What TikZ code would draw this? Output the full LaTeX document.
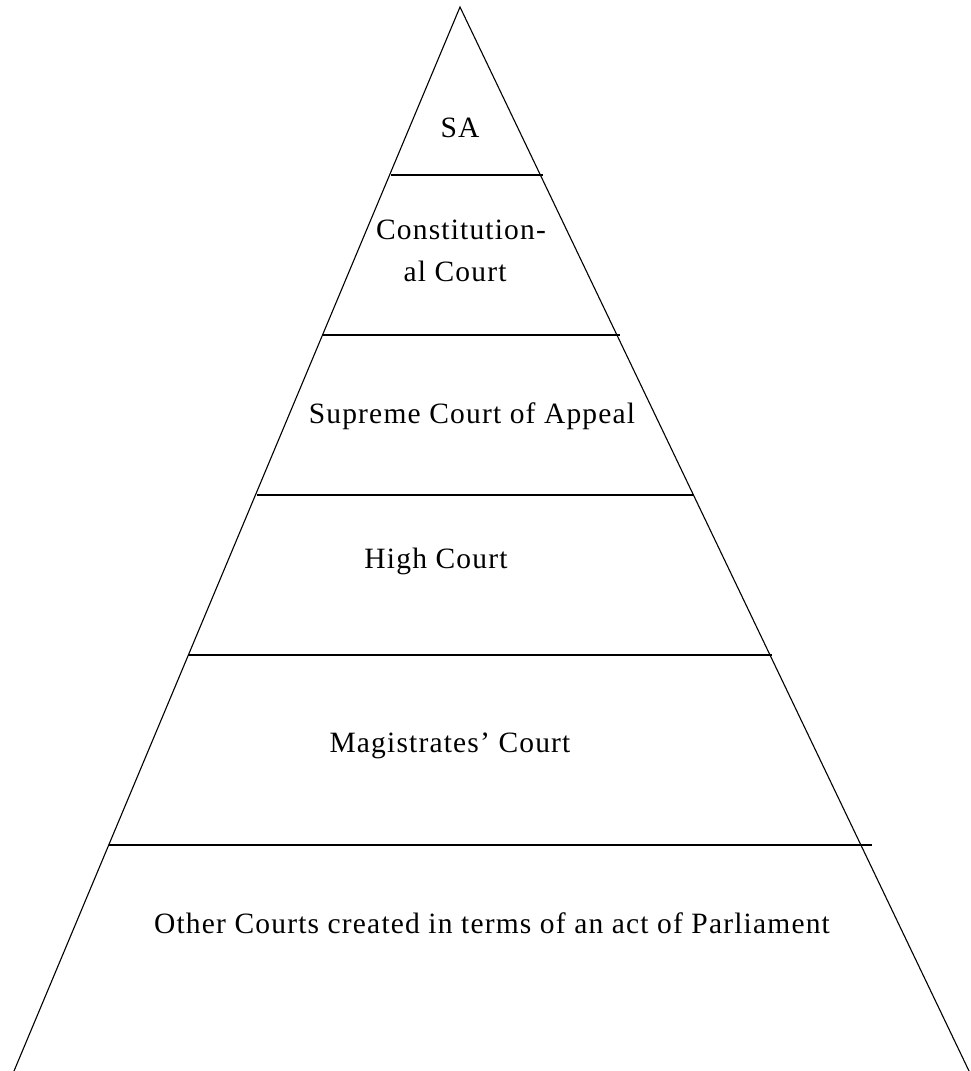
\documentclass[tikz,border=0pt]{standalone}
\usepackage{fontspec}
\setmainfont{Liberation Serif}[LetterSpace=4]
\begin{document}
\begin{tikzpicture}[x=1pt,y=-1pt,
  edge/.style={line width=1.1pt,black},
  tier/.style={line width=1.1pt,black},
  lbl/.style={anchor=base,inner sep=0pt,font=\fontsize{29.5}{42}\selectfont}]
\useasboundingbox (0,0) rectangle (970,1071);
% pyramid outline
\coordinate (apex) at (460,7);
\coordinate (bl) at (14,1071);
\coordinate (br) at (969,1071);
\draw[edge] (bl) -- (apex) -- (br);
% tier separators
\coordinate (s1l) at (391,175); \coordinate (s1r) at (543,175);
\coordinate (s2l) at (323,335); \coordinate (s2r) at (620,335);
\coordinate (s3l) at (257,495); \coordinate (s3r) at (694,495);
\coordinate (s4l) at (188,655); \coordinate (s4r) at (772,655);
\coordinate (s5l) at (109,845); \coordinate (s5r) at (872,845);
\draw[tier] (s1l) -- (s1r);
\draw[tier] (s2l) -- (s2r);
\draw[tier] (s3l) -- (s3r);
\draw[tier] (s4l) -- (s4r);
\draw[tier] (s5l) -- (s5r);
% tier labels
\node[lbl] (sa) at (460,137) {SA};
\node[lbl] (cc1) at (461,239) {Constitution-};
\node[lbl] (cc2) at (455,281) {al Court};
\node[lbl] (sca) at (472,423) {Supreme Court of Appeal};
\node[lbl] (hc) at (436,568) {High Court};
\node[lbl] (mc) at (450,752) {Magistrates’ Court};
\node[lbl] (oc) at (492,933) {Other Courts created in terms of an act of Parliament};
\end{tikzpicture}
\end{document}
